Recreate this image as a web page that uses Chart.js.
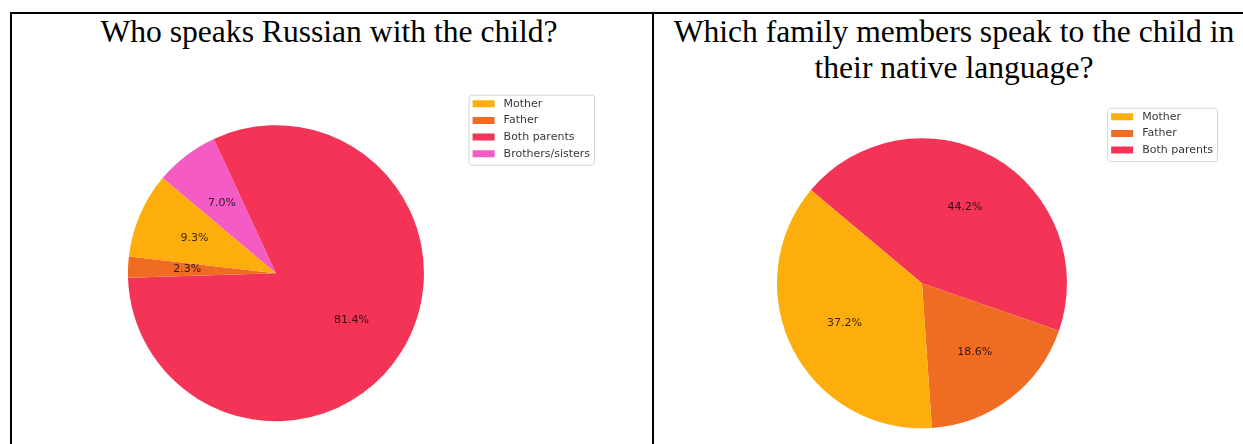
<!DOCTYPE html>
<html lang="en">
<head>
  <meta charset="UTF-8" />
  <title>Family languages</title>
  <style>
    body {
      margin: 0;
      width: 1243px;
      height: 444px;
      overflow: hidden;
      background: #fff;
      position: relative;
    }
    .rule { position: absolute; background: #000; }
    .title {
      position: absolute;
      top: 14px;
      font-family: "Liberation Serif", "Times New Roman", serif;
      font-size: 31.6px;
      line-height: 36px;
      color: #000;
      text-align: center;
    }
    canvas { position: absolute; top: 14px; }
  </style>
</head>
<body>
  <div class="rule" style="left:10px; top:12px; width:1243px; height:2px;"></div>
  <div class="rule" style="left:10px; top:12px; width:2px; height:440px;"></div>
  <div class="rule" style="left:652px; top:12px; width:2px; height:440px;"></div>

  <div class="title" style="left:12px; width:634px;">Who speaks Russian with the child?</div>
  <div class="title" style="left:654px; width:600px;">Which family members speak to the child in<br>their native language?</div>

  <canvas id="russianPie" width="640" height="440" style="left:12px;"></canvas>
  <canvas id="nativePie" width="589" height="447" style="left:654px;"></canvas>

  <script src="https://cdn.jsdelivr.net/npm/chart.js"></script>
  <script>
    // who speaks Russian with the child (%)
    const russianLabels = ['Mother', 'Father', 'Both parents', 'Brothers/sisters'];
    const russianValues = [9.3, 2.3, 81.4, 7.0];

    // who speaks the native language with the child (%)
    const nativeLabels = ['Mother', 'Father', 'Both parents'];
    const nativeValues = [37.2, 18.6, 44.2];

    const sliceColors = {
      'Mother': '#fdae0c',
      'Father': '#f06c23',
      'Both parents': '#f33457',
      'Brothers/sisters': '#f55bc4'
    };

    // percentage text inside each slice, at 0.6 of the radius
    const pctLabels = {
      id: 'pctLabels',
      afterDatasetsDraw(chart) {
        const ctx = chart.ctx;
        const meta = chart.getDatasetMeta(0);
        const data = chart.data.datasets[0].data;
        ctx.save();
        ctx.font = '11px "DejaVu Sans"';
        ctx.fillStyle = 'rgba(0,0,0,0.78)';
        ctx.textAlign = 'center';
        ctx.textBaseline = 'middle';
        meta.data.forEach((arc, i) => {
          const p = arc.getProps(['x', 'y', 'startAngle', 'endAngle', 'outerRadius'], true);
          const mid = (p.startAngle + p.endAngle) / 2;
          const r = p.outerRadius * 0.6;
          ctx.fillText(data[i].toFixed(1) + '%', p.x + Math.cos(mid) * r, p.y + Math.sin(mid) * r);
        });
        ctx.restore();
      }
    };

    // light rounded frame behind the legend
    const legendFrame = {
      id: 'legendFrame',
      beforeDraw(chart) {
        const hb = chart.legend && chart.legend.legendHitBoxes;
        if (!hb || !hb.length) return;
        const x0 = hb[0].left - 4;
        const y0 = hb[0].top - 3.5;
        const x1 = Math.max(...hb.map(b => b.left + b.width)) + 4;
        const last = hb[hb.length - 1];
        const y1 = last.top + last.height + 5.5;
        const ctx = chart.ctx;
        ctx.save();
        ctx.beginPath();
        ctx.roundRect(x0 + 0.5, y0 + 0.5, x1 - x0, y1 - y0, 3);
        ctx.fillStyle = '#fff';
        ctx.fill();
        ctx.strokeStyle = '#d6d6d6';
        ctx.lineWidth = 1;
        ctx.stroke();
        ctx.restore();
      }
    };

    // matplotlib draws counter-clockwise from 140 deg; Chart.js goes clockwise,
    // so feed the slices reversed and flip the legend back
    function makePie(canvasId, labels, values, padding) {
      const revLabels = labels.slice().reverse();
      const revValues = values.slice().reverse();
      return new Chart(document.getElementById(canvasId), {
        type: 'pie',
        data: {
          labels: revLabels,
          datasets: [{
            data: revValues,
            backgroundColor: revLabels.map(l => sliceColors[l]),
            borderWidth: 0,
            radius: padding.radius
          }]
        },
        options: {
          responsive: false,
          animation: false,
          events: [],
          rotation: -50,
          layout: {
            padding: { top: padding.top, left: padding.left, right: padding.right, bottom: 0 }
          },
          plugins: {
            tooltip: { enabled: false },
            legend: {
              position: 'right',
              align: 'start',
              reverse: true,
              labels: {
                boxWidth: 22,
                boxHeight: 7,
                padding: 5.7,
                color: 'rgba(0,0,0,0.8)',
                font: { family: 'DejaVu Sans', size: 11 },
                generateLabels(chart) {
                  const items = Chart.overrides.doughnut.plugins.legend.labels.generateLabels(chart);
                  items.forEach(it => { it.text = ' ' + it.text; it.lineWidth = 0; });
                  return items;
                }
              }
            }
          }
        },
        plugins: [legendFrame, pctLabels]
      });
    }

    makePie('russianPie', russianLabels, russianValues, { top: 78.5, left: 73, right: 52, radius: 148 });
    makePie('nativePie', nativeLabels, nativeValues, { top: 91.5, left: 84.5, right: 20, radius: 145 });
  </script>
</body>
</html>
